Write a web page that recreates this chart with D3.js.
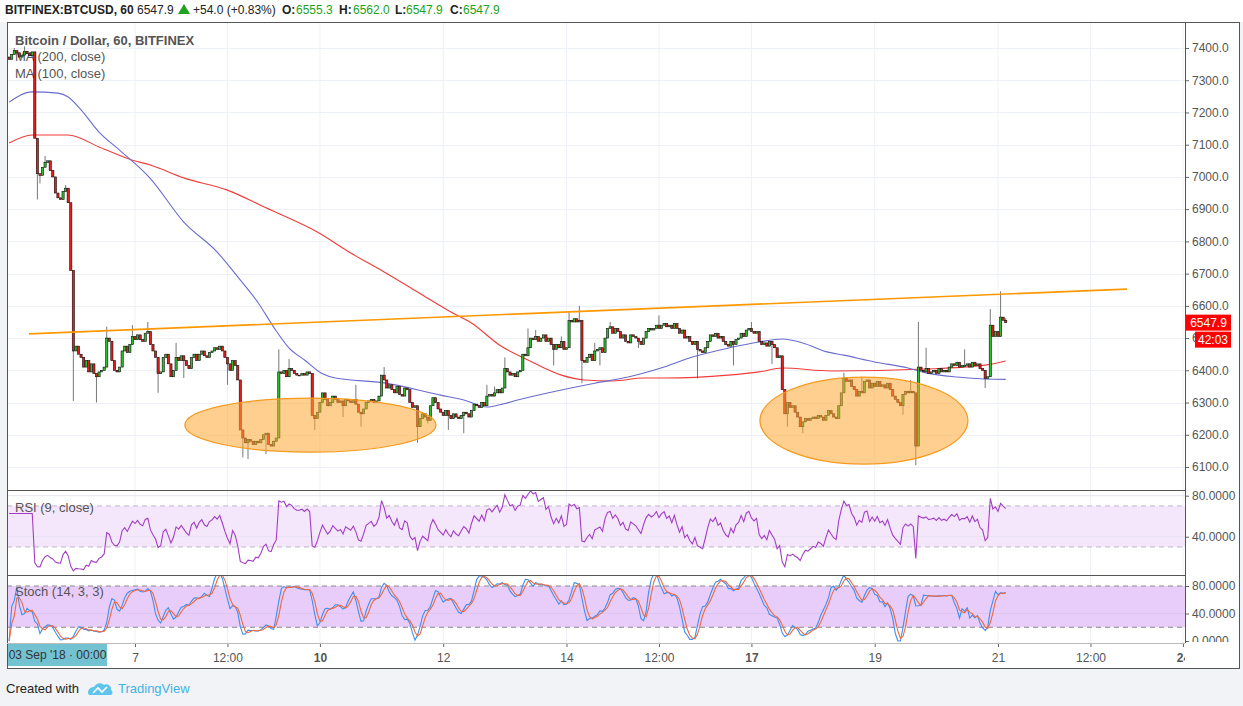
<!DOCTYPE html>
<html>
<head>
<meta charset="utf-8">
<script src="https://cdn.jsdelivr.net/npm/d3@7"></script>
<style>
  body { margin: 0; background: #ffffff; }
  svg { display: block; font-family: "Liberation Sans", Arial, sans-serif; }
  .tick text { fill: #555; font-size: 12px; }
</style>
</head>
<body>
<svg id="chart"></svg>
<script>
var svgWidth = 1243;
var svgHeight = 706;

// hourly closes, BITFINEX BTCUSD, from 04 Sep 23:00 (UTC)
var firstOpen = 7372;
var closes = [
  7365, 7380, 7392, 7385, 7372, 7378, 7390, 7382, 7376, 7388,
  7120, 7010, 7005, 7030, 7045, 7050, 7020, 7000, 6950, 6935,
  6930, 6955, 6965, 6920, 6710, 6460, 6475, 6450, 6440, 6410,
  6430, 6395, 6420, 6390, 6380, 6395, 6400, 6410, 6500, 6490,
  6430, 6400, 6395, 6410, 6460, 6475, 6455, 6480, 6505, 6495,
  6510, 6495, 6490, 6515, 6520, 6480, 6460, 6440, 6390, 6395,
  6440, 6450, 6420, 6380, 6400, 6440, 6430, 6445, 6430, 6415,
  6405, 6440, 6450, 6430, 6450, 6460, 6445, 6440, 6455, 6460,
  6470, 6465, 6475, 6460, 6440, 6420, 6400, 6430, 6415, 6370,
  6215, 6190, 6175, 6185, 6180, 6170, 6180, 6175, 6185, 6200,
  6205, 6170, 6165, 6180, 6190, 6395, 6390, 6400, 6380, 6405,
  6400, 6390, 6385, 6385, 6390, 6385, 6395, 6390, 6260, 6250,
  6270, 6300, 6330, 6310, 6290, 6300, 6320, 6310, 6300, 6305,
  6290, 6310, 6305, 6300, 6310, 6295, 6270, 6265, 6280, 6300,
  6305, 6310, 6300, 6305, 6320, 6385, 6370, 6345, 6355, 6340,
  6330, 6350, 6325, 6320, 6345, 6340, 6300, 6285, 6290, 6225,
  6250, 6265, 6255, 6245, 6290, 6315, 6300, 6280, 6270, 6260,
  6275, 6260, 6250, 6265, 6255, 6250, 6260, 6270, 6265, 6255,
  6275, 6295, 6290, 6285, 6300, 6290, 6320, 6325, 6320, 6330,
  6340, 6330, 6345, 6405, 6395, 6385, 6390, 6380, 6395, 6400,
  6450, 6445, 6470, 6500, 6495, 6505, 6490, 6500, 6510, 6490,
  6500, 6480, 6465, 6480, 6470, 6490, 6465, 6470, 6555, 6550,
  6560, 6550, 6555, 6430, 6425, 6440, 6450, 6430, 6460, 6465,
  6470, 6455, 6500, 6530, 6535, 6515, 6530, 6520, 6500, 6510,
  6490, 6485, 6510, 6505, 6500, 6490, 6480, 6500, 6520, 6530,
  6525, 6530, 6540, 6530, 6540, 6545, 6535, 6540, 6530, 6545,
  6530, 6515, 6525, 6500, 6505, 6490, 6480, 6490, 6465, 6460,
  6455, 6470, 6490, 6510, 6505, 6515, 6500, 6505, 6490, 6480,
  6475, 6490, 6480, 6495, 6500, 6515, 6505, 6525, 6530, 6520,
  6515, 6520, 6490, 6480, 6485, 6475, 6490, 6480, 6470, 6440,
  6445, 6340, 6265, 6300, 6285, 6290, 6270, 6255, 6225, 6240,
  6250, 6245, 6250, 6255, 6250, 6260, 6255, 6245, 6260, 6275,
  6265, 6255, 6250, 6290, 6330, 6375, 6365, 6370, 6350, 6340,
  6320, 6335, 6330, 6365, 6370, 6345, 6360, 6350, 6365, 6350,
  6355, 6345, 6360, 6340, 6320, 6310, 6300, 6290, 6325, 6335,
  6330, 6335, 6330, 6165, 6410, 6400, 6395, 6405, 6390, 6395,
  6400, 6390, 6405, 6395, 6400, 6395, 6410, 6420, 6415, 6425,
  6410, 6415, 6415, 6420, 6410, 6425, 6415, 6420, 6405, 6400,
  6375, 6380, 6540, 6505, 6520, 6505, 6565, 6555.3, 6547.9
];

// wick extremes where they stick out of the body (candle index -> price)
var wickHighs = {2: 7400, 6: 7405, 14: 7065, 22: 6975, 38: 6535, 48: 6540, 54: 6550, 65: 6485,
  105: 6465, 109: 6435, 135: 6355, 146: 6410, 186: 6355, 189: 6350, 193: 6440, 202: 6530,
  205: 6525, 215: 6505, 218: 6580, 222: 6600, 228: 6485, 234: 6550, 253: 6570, 289: 6550,
  325: 6392, 332: 6380, 351: 6370, 354: 6550, 357: 6470, 372: 6465, 382: 6590, 386: 6645, 388: 6562};
var wickLows = {11: 6930, 12: 6980, 25: 6305, 34: 6300, 58: 6330, 68: 6376, 85: 6355, 91: 6130,
  93: 6125, 100: 6140, 119: 6215, 130: 6255, 137: 6225, 159: 6175, 163: 6235, 171: 6215,
  177: 6205, 212: 6415, 223: 6360, 230: 6415, 245: 6469, 268: 6375, 282: 6415, 297: 6420,
  303: 6225, 309: 6205, 348: 6262, 353: 6106, 380: 6345};

// moving averages (candle index, price)
var ma100Idx = [0, 9, 19, 23, 28, 35, 43, 55, 68, 81, 89, 97, 103, 109, 115, 122, 127, 146, 168, 177, 186, 191, 198, 215, 228, 241, 255, 266, 280, 292, 301, 309, 318, 325, 337, 350, 357, 369, 380, 388];
var ma100Val = [7232, 7264, 7260, 7248, 7208, 7139, 7083, 6995, 6860, 6767, 6690, 6609, 6534, 6469, 6432, 6389, 6376, 6361, 6323, 6308, 6286, 6293, 6308, 6339, 6360, 6379, 6410, 6441, 6469, 6488, 6497, 6485, 6458, 6447, 6426, 6407, 6392, 6379, 6373, 6372];
var ma200Idx = [0, 9, 23, 35, 48, 55, 68, 85, 100, 120, 133, 146, 159, 172, 180, 191, 202, 215, 224, 235, 247, 255, 280, 292, 301, 320, 357, 380, 388];
var ma200Val = [7105, 7130, 7130, 7093, 7052, 7037, 6997, 6959, 6904, 6829, 6764, 6705, 6643, 6581, 6547, 6478, 6432, 6385, 6370, 6367, 6376, 6376, 6385, 6395, 6407, 6398, 6404, 6416, 6429];

// drawings: resistance line and the two rounded bottoms
var trendIdx = [7.75, 435.2];
var trendVal = [6513, 6652];
var zoneIdx = [117.3, 332.8];
var zonePrice = [6230, 6244];
var zoneHalfHours = [48.9, 40.5];
var zoneHalfPrice = [84, 135];

var priceTicks = [6100, 6200, 6300, 6400, 6500, 6600, 6700, 6800, 6900, 7000, 7100, 7200, 7300, 7400];
var rsiTicks = [40, 80];
var stochTicks = [0, 40, 80];
var HOUR = 3600e3;
var day7 = Date.UTC(2018, 8, 7);
var timeTicks = [day7, day7 + 36 * HOUR, Date.UTC(2018, 8, 10), Date.UTC(2018, 8, 12), Date.UTC(2018, 8, 14),
  Date.UTC(2018, 8, 15, 12), Date.UTC(2018, 8, 17), Date.UTC(2018, 8, 19), Date.UTC(2018, 8, 21),
  Date.UTC(2018, 8, 22, 12), Date.UTC(2018, 8, 24)];
var timeLabels = ['7', '12:00', '10', '12', '14', '12:00', '17', '19', '21', '12:00', '24'];
var boldLabels = ['10', '17', '24'];

var candleStart = Date.UTC(2018, 8, 4, 23);

// ---- layout
var frame = {left: 7, right: 1240, top: 22, bottom: 669};
var plotRight = 1185;
var pricePanel = {top: 22, bottom: 490};
var rsiPanel = {top: 491, bottom: 575};
var stochPanel = {top: 576, bottom: 643};

var xScale = d3.scaleUtc()
  .domain([day7 - 49.83 * HOUR, day7 + 408.8 * HOUR])
  .range([frame.left, plotRight]);
var yPrice = d3.scaleLinear().domain([6100, 7400]).range([467, 48]);
var yRsi = d3.scaleLinear().domain([40, 80]).range([536.7, 495.7]);
var yStoch = d3.scaleLinear().domain([0, 80]).range([641, 586]);

function tIdx(i) { return candleStart + i * HOUR; }

// candles
var candles = closes.map(function (c, i) {
  var o = i === 0 ? firstOpen : closes[i - 1];
  var hi = wickHighs[i] !== undefined ? wickHighs[i] : Math.max(o, c);
  var lo = wickLows[i] !== undefined ? wickLows[i] : Math.min(o, c);
  return {i: i, t: tIdx(i), o: o, h: hi, l: lo, c: c};
});

// RSI (9) with Wilder smoothing
var rsi = [];
(function () {
  var n = 9, g = 0, l = 0;
  for (var k = 1; k <= n; k++) {
    var d = candles[k].c - candles[k].o;
    if (d > 0) g += d; else l -= d;
  }
  g /= n; l /= n;
  for (var i = 0; i < candles.length; i++) {
    if (i > n) {
      var dd = candles[i].c - candles[i - 1].c;
      g = (g * (n - 1) + Math.max(dd, 0)) / n;
      l = (l * (n - 1) + Math.max(-dd, 0)) / n;
    }
    rsi.push({t: candles[i].t, v: l === 0 ? 100 : 100 - 100 / (1 + g / l)});
  }
})();

// Stochastic (14, 3, 3)
var rawK = candles.map(function (d, i) {
  var win = candles.slice(Math.max(0, i - 13), i + 1);
  var hh = d3.max(win, function (e) { return e.h; });
  var ll = d3.min(win, function (e) { return e.l; });
  return hh === ll ? 50 : 100 * (d.c - ll) / (hh - ll);
});
function sma3(arr) {
  return arr.map(function (v, i) { return d3.mean(arr.slice(Math.max(0, i - 2), i + 1)); });
}
var kLine = sma3(rawK);
var dLine = sma3(kLine);

// ---- svg
var svg = d3.select('#chart').attr('width', svgWidth).attr('height', svgHeight);

svg.append('rect').attr('x', 0).attr('y', 0).attr('width', svgWidth).attr('height', svgHeight).attr('fill', '#f1f3f6');
svg.append('rect').attr('x', 0).attr('y', 0).attr('width', svgWidth).attr('height', frame.top).attr('fill', '#ffffff');
svg.append('rect')
  .attr('x', frame.left).attr('y', frame.top)
  .attr('width', frame.right - frame.left).attr('height', frame.bottom - frame.top)
  .attr('fill', '#ffffff');

var defs = svg.append('defs');
[['clipPrice', pricePanel], ['clipRsi', rsiPanel], ['clipStoch', stochPanel]].forEach(function (p) {
  defs.append('clipPath').attr('id', p[0]).append('rect')
    .attr('x', frame.left).attr('y', p[1].top)
    .attr('width', plotRight - frame.left).attr('height', p[1].bottom - p[1].top);
});

// vertical grid
var grid = svg.append('g').attr('class', 'grid');
grid.selectAll('.vgrid').data(timeTicks).enter().append('line')
  .attr('x1', function (d) { return xScale(d); }).attr('x2', function (d) { return xScale(d); })
  .attr('y1', frame.top).attr('y2', stochPanel.bottom)
  .attr('stroke', '#edf1f5').attr('stroke-width', 1);
grid.selectAll('.hgrid').data(priceTicks).enter().append('line')
  .attr('x1', frame.left).attr('x2', plotRight)
  .attr('y1', function (d) { return Math.round(yPrice(d)) + 0.5; })
  .attr('y2', function (d) { return Math.round(yPrice(d)) + 0.5; })
  .attr('stroke', '#edf1f5');

// legend texts (drawn under the candles)
var legend = svg.append('g').attr('fill', '#555').style('font-size', '13px');
legend.append('text').attr('x', 15).attr('y', 45).attr('font-weight', 'bold').text('Bitcoin / Dollar, 60, BITFINEX');
legend.append('text').attr('x', 15).attr('y', 61).text('MA (200, close)');
legend.append('text').attr('x', 15).attr('y', 78).text('MA (100, close)');

var pricePlot = svg.append('g').attr('clip-path', 'url(#clipPrice)');

var maLine = d3.line()
  .x(function (d) { return xScale(tIdx(d[0])); })
  .y(function (d) { return yPrice(d[1]); })
  .curve(d3.curveMonotoneX);
pricePlot.append('path').datum(d3.zip(ma200Idx, ma200Val)).attr('d', maLine)
  .attr('fill', 'none').attr('stroke', '#f23b3b').attr('stroke-width', 1.1);
pricePlot.append('path').datum(d3.zip(ma100Idx, ma100Val)).attr('d', maLine)
  .attr('fill', 'none').attr('stroke', '#6b6bd0').attr('stroke-width', 1.1);

var bodyW = 2.2;
var cg = pricePlot.append('g').attr('class', 'candles');
cg.selectAll('.wick').data(candles).enter().append('line')
  .attr('x1', function (d) { return xScale(d.t); }).attr('x2', function (d) { return xScale(d.t); })
  .attr('y1', function (d) { return yPrice(d.h); }).attr('y2', function (d) { return yPrice(d.l); })
  .attr('stroke', '#555').attr('stroke-width', 0.8);
cg.selectAll('.body').data(candles).enter().append('rect')
  .attr('x', function (d) { return xScale(d.t) - bodyW / 2; })
  .attr('width', bodyW)
  .attr('y', function (d) { return yPrice(Math.max(d.o, d.c)); })
  .attr('height', function (d) { return Math.max(0.8, Math.abs(yPrice(d.o) - yPrice(d.c))); })
  .attr('fill', function (d) { return d.c >= d.o ? '#2bbf2b' : '#e21d1d'; })
  .attr('stroke', '#111').attr('stroke-width', 0.6);

// rounded-bottom zones
pricePlot.selectAll('.zone').data(d3.range(zoneIdx.length)).enter().append('ellipse')
  .attr('cx', function (k) { return xScale(tIdx(zoneIdx[k])); })
  .attr('cy', function (k) { return yPrice(zonePrice[k]); })
  .attr('rx', function (k) { return xScale(tIdx(zoneIdx[k] + zoneHalfHours[k])) - xScale(tIdx(zoneIdx[k])); })
  .attr('ry', function (k) { return yPrice(zonePrice[k] - zoneHalfPrice[k]) - yPrice(zonePrice[k]); })
  .attr('fill', '#ffa733').attr('fill-opacity', 0.55)
  .attr('stroke', '#f59a1f').attr('stroke-width', 1.2);

// resistance line
pricePlot.append('line')
  .attr('x1', xScale(tIdx(trendIdx[0]))).attr('y1', yPrice(trendVal[0]))
  .attr('x2', xScale(tIdx(trendIdx[1]))).attr('y2', yPrice(trendVal[1]))
  .attr('stroke', '#ff9800').attr('stroke-width', 1.6);

// ---- RSI panel
var rsiG = svg.append('g').attr('clip-path', 'url(#clipRsi)');
rsiG.append('rect').attr('x', frame.left).attr('width', plotRight - frame.left)
  .attr('y', yRsi(70)).attr('height', yRsi(30) - yRsi(70)).attr('fill', '#f4e7fc');
rsiG.selectAll('.rg').data(rsiTicks).enter().append('line')
  .attr('x1', frame.left).attr('x2', plotRight)
  .attr('y1', function (d) { return yRsi(d); }).attr('y2', function (d) { return yRsi(d); })
  .attr('stroke', '#e9e2f1');
rsiG.selectAll('.rb').data([70, 30]).enter().append('line')
  .attr('x1', frame.left).attr('x2', plotRight)
  .attr('y1', function (d) { return yRsi(d); }).attr('y2', function (d) { return yRsi(d); })
  .attr('stroke', '#c2b2cc').attr('stroke-dasharray', '5,4');
rsiG.append('path').datum(rsi)
  .attr('d', d3.line().x(function (d) { return xScale(d.t); }).y(function (d) { return yRsi(d.v); }))
  .attr('fill', 'none').attr('stroke', '#a33ec4').attr('stroke-width', 1.1);
svg.append('text').attr('x', 15).attr('y', 512).attr('fill', '#555').style('font-size', '13px').text('RSI (9, close)');

// ---- Stoch panel
var stG = svg.append('g').attr('clip-path', 'url(#clipStoch)');
stG.append('rect').attr('x', frame.left).attr('width', plotRight - frame.left)
  .attr('y', yStoch(80)).attr('height', yStoch(20) - yStoch(80)).attr('fill', '#e8cdfb');
stG.append('line').attr('x1', frame.left).attr('x2', plotRight)
  .attr('y1', yStoch(40)).attr('y2', yStoch(40)).attr('stroke', '#ddc6ef');
stG.selectAll('.sb').data([80, 20]).enter().append('line')
  .attr('x1', frame.left).attr('x2', plotRight)
  .attr('y1', function (d) { return yStoch(d); }).attr('y2', function (d) { return yStoch(d); })
  .attr('stroke', '#888').attr('stroke-dasharray', '5,4');
var stLine = d3.line().x(function (d, i) { return xScale(tIdx(i)); }).y(function (d) { return yStoch(d); });
stG.append('path').datum(kLine).attr('d', stLine).attr('fill', 'none').attr('stroke', '#3d8ff2').attr('stroke-width', 1.1);
stG.append('path').datum(dLine).attr('d', stLine).attr('fill', 'none').attr('stroke', '#f2683a').attr('stroke-width', 1.1);
svg.append('text').attr('x', 15).attr('y', 596).attr('fill', '#555').style('font-size', '13px').text('Stoch (14, 3, 3)');

// ---- axes
function styleAxis(g) {
  g.select('.domain').remove();
  g.selectAll('.tick line').attr('stroke', '#666');
}
svg.append('g').attr('transform', 'translate(' + plotRight + ',0)')
  .call(d3.axisRight(yPrice).tickValues(priceTicks).tickFormat(d3.format('.1f')).tickSize(4).tickPadding(3))
  .call(styleAxis);
svg.append('g').attr('transform', 'translate(' + plotRight + ',0)')
  .call(d3.axisRight(yRsi).tickValues(rsiTicks).tickFormat(d3.format('.4f')).tickSize(4).tickPadding(3))
  .call(styleAxis);
defs.append('clipPath').attr('id', 'clipStochAxis').append('rect')
  .attr('x', plotRight).attr('y', stochPanel.top).attr('width', frame.right - plotRight).attr('height', stochPanel.bottom - stochPanel.top - 1);
svg.append('g').attr('clip-path', 'url(#clipStochAxis)').append('g')
  .attr('transform', 'translate(' + plotRight + ',0)')
  .call(d3.axisRight(yStoch).tickValues(stochTicks).tickFormat(d3.format('.4f')).tickSize(4).tickPadding(3))
  .call(styleAxis);

defs.append('clipPath').attr('id', 'clipTime').append('rect')
  .attr('x', frame.left).attr('y', stochPanel.bottom).attr('width', plotRight - frame.left).attr('height', frame.bottom - stochPanel.bottom);
svg.append('g').attr('clip-path', 'url(#clipTime)').append('g')
  .attr('transform', 'translate(0,' + stochPanel.bottom + ')')
  .call(d3.axisBottom(xScale).tickValues(timeTicks)
    .tickFormat(function (d, i) { return timeLabels[i]; }).tickSize(4).tickPadding(6))
  .call(styleAxis)
  .selectAll('.tick text')
  .attr('font-weight', function (d, i) { return boldLabels.indexOf(timeLabels[i]) >= 0 ? 'bold' : 'normal'; })
  .attr('fill', function (d, i) { return boldLabels.indexOf(timeLabels[i]) >= 0 ? '#222' : '#555'; });

// panel borders
var borders = svg.append('g').attr('stroke', '#555').attr('fill', 'none');
borders.append('rect').attr('x', frame.left + 0.5).attr('y', frame.top + 0.5)
  .attr('width', frame.right - frame.left - 1).attr('height', frame.bottom - frame.top - 1);
[pricePanel.bottom, rsiPanel.bottom].forEach(function (yy) {
  borders.append('line').attr('x1', frame.left).attr('x2', plotRight).attr('y1', yy + 0.5).attr('y2', yy + 0.5);
});
borders.append('line').attr('x1', plotRight + 0.5).attr('x2', plotRight + 0.5).attr('y1', frame.top).attr('y2', stochPanel.bottom);
borders.append('line').attr('x1', frame.left).attr('x2', plotRight).attr('y1', stochPanel.bottom + 0.5).attr('y2', stochPanel.bottom + 0.5).attr('stroke', '#bbb');

// last price and countdown labels
var last = closes[closes.length - 1];
var lp = svg.append('g');
lp.append('rect').attr('x', plotRight + 1).attr('y', yPrice(last) - 8).attr('width', 45).attr('height', 16).attr('fill', '#ff0000');
lp.append('text').attr('x', plotRight + 23.5).attr('y', yPrice(last) + 4.5).attr('text-anchor', 'middle')
  .attr('fill', '#fff').style('font-size', '12px').text(d3.format('.1f')(last));
lp.append('rect').attr('x', plotRight + 10).attr('y', yPrice(last) + 9).attr('width', 36).attr('height', 16).attr('fill', '#ff0000');
lp.append('text').attr('x', plotRight + 28).attr('y', yPrice(last) + 21.5).attr('text-anchor', 'middle')
  .attr('fill', '#fff').style('font-size', '12px').text('42:03');

// crosshair date badge
svg.append('rect').attr('x', 8).attr('y', 644).attr('width', 99).attr('height', 22).attr('fill', '#72c2d2');
svg.append('text').attr('x', 57.5).attr('y', 659).attr('text-anchor', 'middle').attr('fill', '#333')
  .style('font-size', '12px').text("03 Sep '18 \u00b7 00:00");

// header line
var header = svg.append('g').style('font-size', '12px');
var green = '#21a321';
var headerParts = [
  {x: 5, t: 'BITFINEX:BTCUSD, 60', w: 'bold', c: '#222'},
  {x: 137, t: '6547.9', w: 'normal', c: '#222'},
  {x: 193, t: '+54.0 (+0.83%)', w: 'normal', c: '#222'},
  {x: 282, t: 'O:', w: 'bold', c: '#222'}, {x: 296, t: '6555.3', w: 'normal', c: green},
  {x: 339, t: 'H:', w: 'bold', c: '#222'}, {x: 353, t: '6562.0', w: 'normal', c: green},
  {x: 395, t: 'L:', w: 'bold', c: '#222'}, {x: 406, t: '6547.9', w: 'normal', c: green},
  {x: 450, t: 'C:', w: 'bold', c: '#222'}, {x: 463, t: '6547.9', w: 'normal', c: green}
];
header.selectAll('text').data(headerParts).enter().append('text')
  .attr('x', function (d) { return d.x; }).attr('y', 14)
  .attr('font-weight', function (d) { return d.w; })
  .attr('fill', function (d) { return d.c; })
  .text(function (d) { return d.t; });
header.append('path').attr('d', 'M178,14 L184,4 L190,14 Z').attr('fill', green);

// footer
svg.append('text').attr('x', 6).attr('y', 693).attr('fill', '#222').style('font-size', '13px').text('Created with');
var logo = svg.append('g').attr('transform', 'translate(88,682)');
logo.append('path').attr('d', 'M0,11 C0,7 3,5 6,5 C8,1 13,0 16,3 C19,1 24,4 23,8 C25,9 25,12 23,13 L2,13 C1,13 0,12 0,11 Z')
  .attr('fill', '#5fc4ec');
logo.append('path').attr('d', 'M5,11 L10,6 L14,10 L19,5').attr('fill', 'none').attr('stroke', '#fff').attr('stroke-width', 1.6);
svg.append('text').attr('x', 118).attr('y', 693).attr('fill', '#3db4e5').style('font-size', '13px').text('TradingView');
</script>
</body>
</html>
